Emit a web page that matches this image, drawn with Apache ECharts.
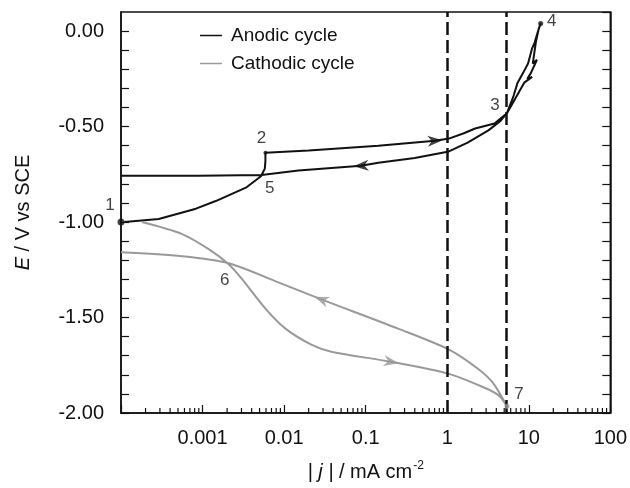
<!DOCTYPE html>
<html>
<head>
<meta charset="utf-8">
<script src="https://cdn.jsdelivr.net/npm/echarts@6/dist/echarts.min.js"></script>
<style>
  html, body { margin: 0; padding: 0; background: #fff; }
  #main { width: 630px; height: 488px; }
</style>
</head>
<body>
<div id="main"></div>
<script>
// 曲线数据（|j| / mA cm-2, E / V）
var anodicJ = [1.1e-4, 2.9e-4, 8.3e-4, 1.45e-3, 3.4e-3, 5.2e-3, 5.8e-3, 5.9e-3, 5.9e-3, 0.02, 0.143, 0.71, 1.05, 1.6, 2.2, 3.8, 5.4, 6.5, 7.3, 8.5, 9.8, 11, 11.8, 13, 14,
  13.2, 12.2, 11.2, 12.6, 10.6, 9.6, 11, 8.8, 7.8, 6.5, 5.4,
  4.5, 3.2, 1.78, 1.05, 0.4, 0.143, 0.088, 0.015, 5.3e-3, 9e-4, 1e-4];
var anodicE = [-1.00, -0.984, -0.93, -0.89, -0.82, -0.76, -0.72, -0.68, -0.637, -0.625, -0.60, -0.574, -0.563, -0.535, -0.51, -0.484, -0.43, -0.34, -0.27, -0.22, -0.17, -0.09, -0.06, 0.0, 0.04,
  0.01, -0.06, -0.17, -0.15, -0.22, -0.25, -0.24, -0.27, -0.31, -0.37, -0.43,
  -0.47, -0.52, -0.584, -0.63, -0.665, -0.69, -0.705, -0.73, -0.753, -0.758, -0.758];

var cathodicJ = [1.8e-4, 5.6e-4, 1.19e-3, 2.09e-3, 3.0e-3, 5.9e-3, 0.0104, 0.0216, 0.038, 0.206, 1.05, 2.38, 4.2, 5.4,
  3.6, 2.38, 1.05, 0.25, 0.0286, 0.0085, 2.09e-3, 5.6e-4, 1e-4];
var cathodicE = [-1.0, -1.063, -1.142, -1.221, -1.295, -1.453, -1.558, -1.642, -1.679, -1.732, -1.795, -1.853, -1.905, -1.965,
  -1.84, -1.768, -1.668, -1.558, -1.405, -1.316, -1.216, -1.179, -1.158];

// 标注点 1~7
var pointJ = [1e-4, 5.9e-3, 5.4, 14, 5.3e-3, 2.09e-3, 5.4];
var pointE = [-1.0, -0.637, -0.43, 0.04, -0.753, -1.221, -1.965];
var pointText = ['1', '2', '3', '4', '5', '6', '7'];

// 箭头：位置与方向（度）
var arrowJ = [0.71, 0.088, 0.206, 0.0286];
var arrowE = [-0.574, -0.705, -1.732, -1.405];
var arrowDir = [4, 184, -10, 159];

// 虚线位置
var dashJ = [1, 5.3];

// 对数轴刻度
var decades = [1e-4, 1e-3, 1e-2, 1e-1, 1, 10];
var minorSteps = [2, 3, 4, 5, 6, 7, 8, 9];

var legendNames = ['Anodic cycle', 'Cathodic cycle'];

function zip(a, b) {
  return a.map(function (v, i) { return [v, b[i]]; });
}

var minorTicks = [];
decades.forEach(function (d) {
  minorSteps.forEach(function (m) { minorTicks.push([d * m]); });
});

var myChart = echarts.init(document.getElementById('main'));
var font = 'Liberation Sans, Arial, Helvetica, sans-serif';
var arrowPath = 'path://M0,0 L14,5 L0,10 L4,5 Z';

var option = {
  animation: false,
  textStyle: { fontFamily: font },
  grid: { left: 121, right: 17, top: 12, bottom: 75, show: true, borderColor: '#111', borderWidth: 1.5 },
  legend: {
    data: legendNames,
    orient: 'vertical',
    left: 195,
    top: 21,
    itemGap: 9,
    icon: 'rect',
    itemWidth: 22,
    itemHeight: 1.5,
    textStyle: { fontSize: 19, color: '#111', padding: [0, 0, 0, 4] }
  },
  xAxis: {
    type: 'log',
    logBase: 10,
    min: 1e-4,
    max: 100,
    splitNumber: 6,
    name: '{i|| j |}{n| / mA cm}{s|-2}',
    nameLocation: 'middle',
    nameGap: 47,
    nameTextStyle: {
      rich: {
        i: { fontSize: 20, fontStyle: 'italic', color: '#111', fontFamily: font },
        n: { fontSize: 20, color: '#111', fontFamily: font },
        s: { fontSize: 12, color: '#111', fontFamily: font, verticalAlign: 'top', padding: [0, 0, 12, 1] }
      }
    },
    axisLine: { onZero: false, lineStyle: { color: '#111', width: 1.5 } },
    axisTick: { inside: true, length: 8, lineStyle: { color: '#111', width: 1.2 } },
    splitLine: { show: false },
    axisLabel: {
      fontSize: 20,
      color: '#111',
      margin: 15,
      formatter: function (v) {
        var e = Math.round(Math.log10(v));
        if (e < -3) return '';
        return e < 0 ? Math.pow(10, e).toFixed(-e) : String(Math.round(Math.pow(10, e)));
      }
    }
  },
  yAxis: [{
    type: 'value',
    min: -2,
    max: 0.1,
    interval: 0.1,
    name: '{i|E}{n| / V vs SCE}',
    nameLocation: 'middle',
    nameGap: 88,
    nameTextStyle: {
      rich: {
        i: { fontSize: 20, fontStyle: 'italic', color: '#111', fontFamily: font },
        n: { fontSize: 20, color: '#111', fontFamily: font }
      }
    },
    axisLine: { show: true, lineStyle: { color: '#111', width: 1.5 } },
    axisTick: { inside: true, length: 8, lineStyle: { color: '#111', width: 1.2 } },
    splitLine: { show: false },
    axisLabel: {
      fontSize: 20,
      color: '#111',
      margin: 17,
      padding: [7, 0, 0, 0],
      showMaxLabel: false,
      formatter: function (v) {
        var k = v * 2;
        if (Math.abs(k - Math.round(k)) > 1e-6) return '';
        return v.toFixed(2);
      }
    }
  }, {
    type: 'value',
    position: 'right',
    min: -2,
    max: 0.1,
    interval: 0.1,
    axisLine: { show: true, lineStyle: { color: '#111', width: 1.5 } },
    axisTick: { inside: true, length: 8, lineStyle: { color: '#111', width: 1.2 } },
    splitLine: { show: false },
    axisLabel: { show: false }
  }],
  series: [
    {
      name: 'Anodic cycle',
      type: 'line',
      data: zip(anodicJ, anodicE),
      showSymbol: false,
      symbol: 'none',
      smooth: false,
      color: '#111',
      lineStyle: { color: '#111', width: 2 },
      markLine: {
        silent: true,
        symbol: 'none',
        label: { show: false },
        lineStyle: { color: '#111', width: 2.5, type: [13, 5] },
        data: dashJ.map(function (v) { return { xAxis: v }; })
      }
    },
    {
      name: 'Cathodic cycle',
      type: 'line',
      data: zip(cathodicJ, cathodicE),
      showSymbol: false,
      symbol: 'none',
      smooth: 0.3,
      color: '#999',
      lineStyle: { color: '#999', width: 2 }
    },
    {
      type: 'scatter',
      silent: true,
      data: zip(arrowJ, arrowE).map(function (p, i) {
        return {
          value: p,
          symbolRotate: arrowDir[i],
          itemStyle: { color: i < 2 ? '#111' : '#999' }
        };
      }),
      symbol: arrowPath,
      symbolSize: [15, 11],
      z: 5
    },
    {
      type: 'scatter',
      silent: true,
      data: zip(pointJ, pointE).map(function (p, i) {
        var sizes = [7, 4, 0, 5, 0, 0, 5];
        var offs = [[-11, -17], [-4, -14], [-12, -8], [11, -2], [8, 13], [-4, 16], [12, -12]];
        return {
          value: p,
          symbolSize: sizes[i],
          itemStyle: { color: i === 6 ? '#999' : '#111' },
          label: {
            show: true,
            formatter: pointText[i],
            position: 'inside',
            offset: offs[i],
            fontSize: 17,
            color: '#111'
          }
        };
      }),
      symbol: 'circle',
      z: 6
    },
    {
      type: 'custom',
      silent: true,
      data: minorTicks,
      renderItem: function (params, api) {
        var p = api.coord([api.value(0), -2]);
        return {
          type: 'line',
          shape: { x1: p[0], y1: p[1], x2: p[0], y2: p[1] - 5 },
          style: { stroke: '#111', lineWidth: 1.2 }
        };
      },
      z: 4
    }
  ]
};

myChart.setOption(option);
</script>
</body>
</html>
